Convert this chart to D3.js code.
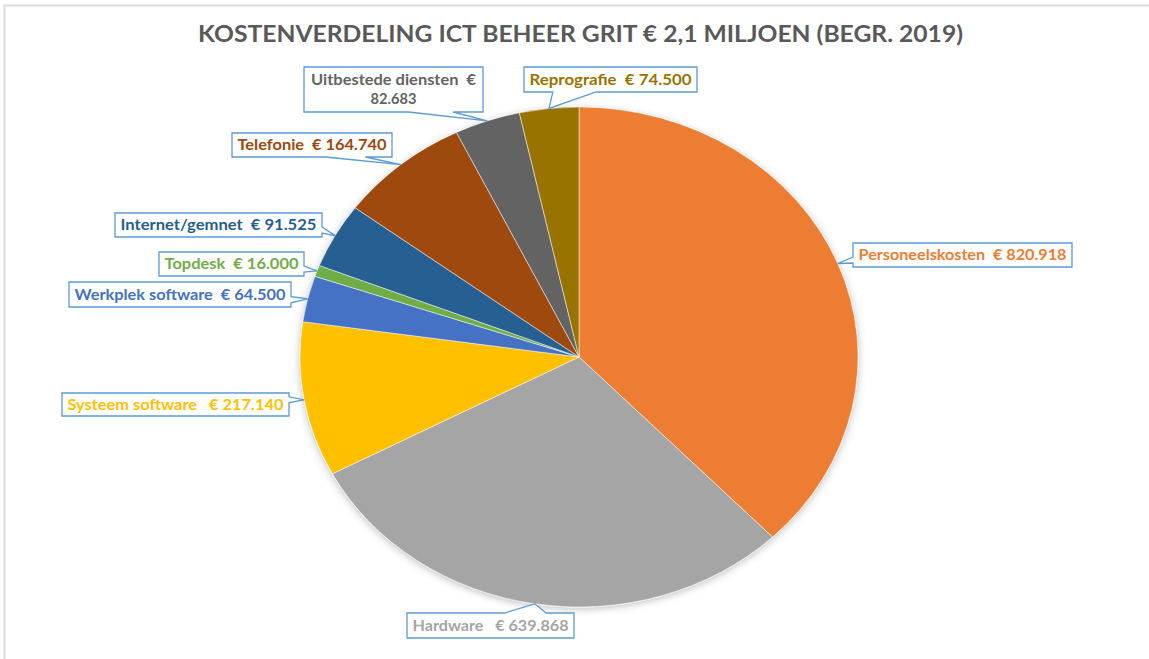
<!DOCTYPE html>
<html><head><meta charset="utf-8">
<script src="https://cdn.jsdelivr.net/npm/d3@7"></script>
<style>html,body{margin:0;padding:0;background:#fff;}svg{display:block;}text{white-space:pre;}</style>
</head><body>
<svg id="chart" width="1149" height="659"></svg>
<script>
// ---- data ----
const title = "KOSTENVERDELING ICT BEHEER GRIT € 2,1 MILJOEN (BEGR. 2019)";
const categories = ["Personeelskosten","Hardware","Systeem software","Werkplek software","Topdesk","Internet/gemnet","Telefonie","Uitbestede diensten","Reprografie"];
const values = [820918,639868,217140,64500,16000,91525,164740,82683,74500];
// ---- styles / layout ----
const colors = ["#ED7D31","#A5A5A5","#FFC000","#4472C4","#70AD47","#255E91","#9E480E","#636363","#997300"];
const gaps = ["  ","   ","   ","  ","  ","  ","  ","  ","  "];
const boxes = [[853,243,219,24],[407,613,167,25],[62,393,227,23],[69,282,222,25],[159,252,145,24],[115,213,207,24],[232,133,160,24],[304,67,179,45],[524,67,173,25]];

const W=1149,H=659, cx=579, cy=357, rx=279, ry=250;
const svg=d3.select("#chart");
const defs=svg.append("defs");
const f=defs.append("filter").attr("id","sh").attr("x","-20%").attr("y","-20%").attr("width","140%").attr("height","140%");
f.append("feDropShadow").attr("dx",0).attr("dy",2).attr("stdDeviation",4).attr("flood-color","#000").attr("flood-opacity",0.25);

svg.append("rect").attr("width",W).attr("height",H).attr("fill","#fff");
svg.append("path").attr("d","M4.5,659 V5.5 H1149").attr("fill","none").attr("stroke","#DCDCDC").attr("stroke-width",2);

const loc=d3.formatLocale({decimal:",",thousands:".",grouping:[3],currency:["€ ",""]});
const fmt=loc.format(",.0f");

svg.append("text").attr("x",580.5).attr("y",42).attr("text-anchor","middle")
  .attr("font-family","Lato, 'Open Sans', sans-serif").attr("font-weight",700).attr("font-size",23.5)
  .attr("fill","#595959").attr("textLength",765).attr("lengthAdjust","spacingAndGlyphs").text(title);

const pie=d3.pie().sort(null).value(d=>d).startAngle(0).endAngle(2*Math.PI);
const arcs=pie(values);
const arc=d3.arc().innerRadius(0).outerRadius(rx);
const g=svg.append("g").attr("transform",`translate(${cx},${cy}) scale(1,${ry/rx})`).attr("filter","url(#sh)");
g.selectAll("path").data(arcs).join("path").attr("d",arc)
  .attr("fill",(d,i)=>colors[i]).attr("stroke","#fff").attr("stroke-width",0.5).attr("vector-effect","non-scaling-stroke");

function callout(b,tx,ty){
  const [x,y,w,h]=b; const mx=x+w/2,my=y+h/2;
  const dx=(tx-mx)/w, dy=(ty-my)/h;
  if(Math.abs(dy)>=Math.abs(dx)){
    const bx = dx>=0?[x+w*7/12,x+w*10/12]:[x+w*2/12,x+w*5/12];
    if(dy>0) return `M${x},${y}H${x+w}V${y+h}H${bx[1]}L${tx},${ty}L${bx[0]},${y+h}H${x}Z`;
    return `M${x},${y}H${bx[0]}L${tx},${ty}L${bx[1]},${y}H${x+w}V${y+h}H${x}Z`;
  } else {
    const by = dy>=0?[y+h*7/12,y+h*10/12]:[y+h*2/12,y+h*5/12];
    if(dx>0) return `M${x},${y}H${x+w}V${by[0]}L${tx},${ty}L${x+w},${by[1]}V${y+h}H${x}Z`;
    return `M${x},${y}H${x+w}V${y+h}H${x}V${by[1]}L${tx},${ty}L${x},${by[0]}Z`;
  }
}

const lg=svg.append("g");
arcs.forEach((d,i)=>{
  const a=(d.startAngle+d.endAngle)/2;
  const tx=cx+rx*Math.sin(a), ty=cy-ry*Math.cos(a);
  const b=boxes[i];
  lg.append("path").attr("d",callout(b,tx,ty)).attr("fill","#fff").attr("stroke","#5B9BD5").attr("stroke-width",1.3).attr("stroke-linejoin","miter");
  const label=categories[i]+gaps[i]+"€ "+fmt(values[i]);
  const t=lg.append("text").attr("font-family","Lato, 'Open Sans', sans-serif").attr("font-weight",700).attr("font-size",14.6).attr("fill",colors[i]).attr("text-anchor","middle");
  if(b[3]>30){
    const sp=label.lastIndexOf(" ");
    t.append("tspan").attr("x",b[0]+b[2]/2).attr("y",b[1]+18).attr("textLength",b[2]-14).attr("lengthAdjust","spacingAndGlyphs").text(label.slice(0,sp));
    t.append("tspan").attr("x",b[0]+b[2]/2).attr("y",b[1]+37).text(label.slice(sp+1));
  } else {
    t.attr("x",b[0]+b[2]/2).attr("y",b[1]+b[3]/2+5).attr("textLength",b[2]-11).attr("lengthAdjust","spacingAndGlyphs").text(label);
  }
});
</script>
</body></html>
